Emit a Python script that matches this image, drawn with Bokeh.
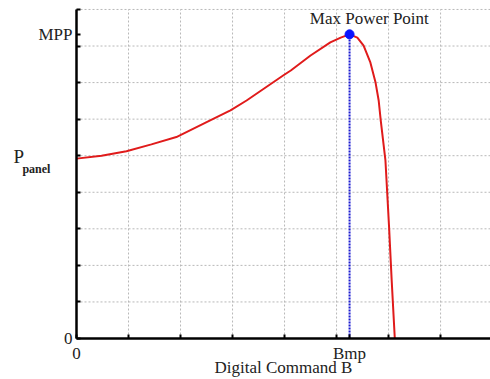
from bokeh.plotting import figure
from bokeh.models import Range1d, FixedTicker, Label
from bokeh.embed import file_html
from bokeh.resources import INLINE

# Data (in grid units)
curve_x = [0, 0.48, 0.96, 1.44, 1.92, 2.56, 2.96, 3.27, 3.98, 4.12, 4.5, 4.88, 5.08, 5.25,
           5.40, 5.52, 5.65, 5.75, 5.81, 5.85, 5.94, 6.01, 6.06, 6.12]
curve_y = [4.92, 5.0, 5.12, 5.31, 5.51, 5.96, 6.24, 6.51, 7.2, 7.33, 7.74, 8.10, 8.23, 8.32,
           8.23, 8.01, 7.55, 7.00, 6.51, 5.96, 4.87, 3.04, 1.59, 0]
bmp = 5.25
mpp = 8.32
grid_x = [0, 1, 2, 3, 4, 5, 6, 7, 8]
grid_y = [0, 1, 2, 3, 4, 5, 6, 7, 8, 9]
x_labels = {0: "0", bmp: "Bmp"}
y_labels = {0: "0", mpp: "MPP"}
x_title = "Digital Command B"
y_title = "P"
y_title_sub = "panel"
peak_label = "Max Power Point"

# Visible window in data units (the picture is cropped on the right)
x_start, x_end = -76 / 52, 7.96
y_start, y_end = -41 / 36.56, 338 / 36.56

FONT = "Liberation Serif"
TXT = "#222222"
GRID = "#b8b8b8"

p = figure(width=490, height=379, x_range=Range1d(x_start, x_end), y_range=Range1d(y_start, y_end),
           output_backend="svg", toolbar_location=None,
           min_border_left=0, min_border_right=0, min_border_top=0, min_border_bottom=0)
p.outline_line_color = None
p.background_fill_color = "white"
p.xgrid.visible = False
p.ygrid.visible = False

# Axes drawn at the data origin
for ax in (p.xaxis[0], p.yaxis[0]):
    ax.fixed_location = 0
    ax.axis_line_color = "black"
    ax.axis_line_width = 2.5
    ax.major_tick_in = 4
    ax.major_tick_out = 0
    ax.major_tick_line_width = 2
    ax.major_tick_line_color = "black"
    ax.minor_tick_line_color = None
    ax.major_label_text_font = FONT
    ax.major_label_text_font_size = "17px"
    ax.major_label_text_color = TXT

p.xaxis.ticker = FixedTicker(ticks=grid_x + [bmp])
p.xaxis.major_label_overrides = {t: x_labels.get(t, "") for t in grid_x + [bmp]}
p.xaxis.major_label_standoff = 5
p.xaxis.bounds = (0, x_end)

p.yaxis.ticker = FixedTicker(ticks=grid_y + [mpp])
p.yaxis.major_label_overrides = {t: y_labels.get(t, "") for t in grid_y + [mpp]}
p.yaxis.major_label_standoff = 4
p.yaxis.bounds = (0, 9)

# Dotted grid inside the axes
p.segment(x0=[0] * len(grid_y), x1=[8] * len(grid_y), y0=grid_y, y1=grid_y,
          line_color=GRID, line_dash="2 2", line_width=1, level="underlay")
p.segment(x0=grid_x, x1=grid_x, y0=[0] * len(grid_x), y1=[9] * len(grid_x),
          line_color=GRID, line_dash="2 2", line_width=1, level="underlay")

# Marks
p.line(x=[bmp, bmp], y=[0, mpp], line_color="#1a1ad0", line_width=2, line_dash="2 1")
p.line(x=curve_x, y=curve_y, line_color="#e01b1b", line_width=2)
p.scatter(x=[bmp], y=[mpp], size=9, fill_color="#0a14ff", line_color="#0a14ff")

# Texts
p.add_layout(Label(x=5.63, y=8.75, text=peak_label, text_align="center",
                   text_baseline="middle", text_font=FONT, text_font_size="17px",
                   text_color=TXT))
p.add_layout(Label(x=3.98, y=-0.79, text=x_title, text_align="center",
                   text_baseline="middle", text_font=FONT, text_font_size="17px",
                   text_color=TXT))
p.add_layout(Label(x=-1.21, y=4.99, text=y_title, text_align="left",
                   text_baseline="alphabetic", text_font=FONT, text_font_size="19px",
                   text_color=TXT))
p.add_layout(Label(x=-1.04, y=4.63, text=y_title_sub, text_align="left",
                   text_baseline="alphabetic", text_font=FONT, text_font_size="12px",
                   text_font_style="bold", text_color=TXT))

open("out.html", "w").write(file_html(p, INLINE))
